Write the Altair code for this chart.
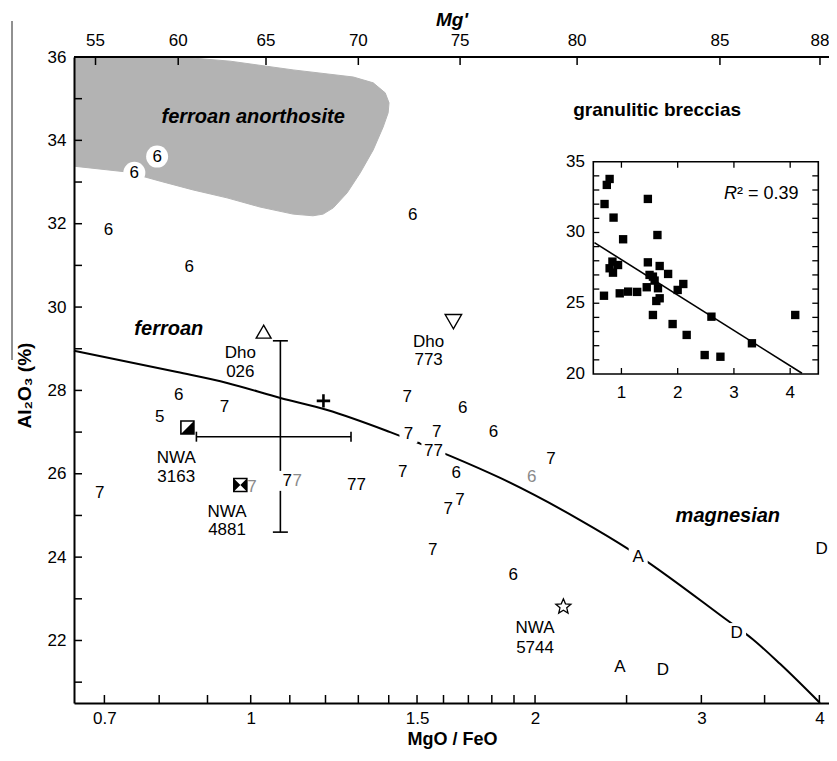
import altair as alt
import pandas as pd

W, H = 755, 646
FONT = "Liberation Sans"

# ---------------- main plot ----------------
X_DOMAIN = [0.65, 4.095]
Y_DOMAIN = [20.5, 36]
x_major = [0.7, 1, 1.5, 2, 3, 4]
x_minor = [0.8, 0.9, 1.1, 1.2, 1.3, 1.4, 1.6, 1.7, 1.8, 1.9, 2.5, 3.5]
y_major = [22, 24, 26, 28, 30, 32, 34, 36]
y_minor = [21, 23, 25, 27, 29, 31, 33, 35]
mg_labels = ["55", "60", "65", "70", "75", "80", "85", "88"]
mg_pos = [0.685, 0.838, 1.038, 1.300, 1.666, 2.216, 3.139, 4.006]

# ferroan anorthosite field (outline)
fa_x = [0.650, 0.842, 0.951, 1.109, 1.284, 1.348, 1.388, 1.401, 1.398, 1.381, 1.348, 1.306,
        1.265, 1.223, 1.193, 1.164, 1.109, 1.023, 0.944, 0.869, 0.802, 0.740, 0.650]
fa_y = [36.00, 36.00, 35.90, 35.69, 35.52, 35.38, 35.14, 34.90, 34.66, 34.32, 33.77, 33.22,
        32.74, 32.38, 32.23, 32.19, 32.23, 32.40, 32.62, 32.81, 33.02, 33.24, 33.38]

# ferroan / magnesian boundary
curve_x = [0.650, 0.836, 0.944, 1.075, 1.205, 1.405, 1.626, 1.837, 2.232, 2.521, 3.193, 3.400, 3.634, 4.006]
curve_y = [28.95, 28.44, 28.18, 27.82, 27.53, 27.00, 26.43, 25.90, 24.89, 24.17, 22.49, 22.03, 21.44, 20.50]

# numbered / lettered samples
lab_text = ["6", "6", "6", "6", "6", "6", "5", "7", "7", "7", "7", "7", "77", "7", "6", "7",
            "7", "77", "6", "6", "7", "7", "7", "7", "6", "7", "6", "A", "D", "A", "D", "D"]
lab_x = [0.796, 0.753, 0.707, 1.484, 0.861, 0.839, 0.801, 0.938, 0.692, 1.003, 1.093, 1.120,
         1.294, 1.465, 1.677, 1.469, 1.574, 1.561, 1.807, 1.650, 1.449, 1.619, 1.666, 1.559,
         1.984, 2.079, 1.897, 2.572, 3.269, 2.460, 2.731, 4.023]
lab_y = [33.61, 33.22, 31.85, 32.21, 30.96, 27.89, 27.37, 27.61, 25.55, 25.69, 25.83, 25.82,
         25.73, 27.85, 27.57, 26.95, 27.01, 26.55, 27.01, 26.01, 26.05, 25.15, 25.37, 24.17,
         25.93, 26.35, 23.57, 24.00, 22.19, 21.36, 21.28, 24.19]
lab_color = ["black"] * 32
for i in (9, 11, 24):
    lab_color[i] = "#8a8a8a"
lab_bg = [0] * 32
lab_bg[10] = 400
lab_bg[15] = 324
lab_bg[17] = 576
lab_bg[27] = 361
lab_bg[28] = 361
circled_idx = [0, 1]

dot_x = [1.506]
dot_y = [26.74]

# named meteorites
name_text = ["Dho", "026", "Dho", "773", "NWA", "3163", "NWA", "4881", "NWA", "5744"]
name_x = [0.975, 0.975, 1.543, 1.543, 0.834, 0.834, 0.944, 0.944, 2.000, 2.000]
name_y = [28.90, 28.44, 29.17, 28.73, 26.37, 25.93, 25.09, 24.64, 22.29, 21.81]

# symbols
tri_up = (1.032, 29.41)
tri_down = (1.639, 29.65)
plus_pt = (1.194, 27.75)
half_sq = (0.857, 27.11)
bowtie = (0.975, 25.73)
star_pt = (2.143, 22.81)

# error cross
err_cx, err_cy = 1.075, 26.89
err_x = [0.876, 1.277]
err_y = [24.60, 29.19]

# region labels
reg_text = ["ferroan anorthosite", "ferroan", "magnesian"]
reg_x = [1.006, 0.819, 3.20]
reg_y = [34.56, 29.47, 24.99]
gb_text = ["granulitic breccias"]
gb_x = [2.693]
gb_y = [34.73]

# ---------------- inset ----------------
ins_xdom = [0.5, 4.5]
ins_ydom = [20, 35]
ins_x = [0.69, 0.70, 0.74, 0.79, 0.86, 0.79, 0.84, 0.85, 0.94, 0.97, 1.03, 1.12, 1.28, 1.47,
         1.47, 1.45, 1.50, 1.56, 1.59, 1.56, 1.64, 1.68, 1.65, 1.62, 1.68, 1.83, 1.91, 2.00,
         2.10, 2.16, 2.48, 2.60, 2.76, 3.32, 4.09]
ins_y = [25.53, 32.01, 33.36, 33.78, 31.05, 27.47, 27.94, 27.16, 27.70, 25.70, 29.52, 25.82,
         25.80, 32.37, 27.89, 26.13, 27.00, 26.88, 26.60, 24.17, 29.82, 27.63, 26.06, 25.16,
         25.35, 27.07, 23.53, 25.94, 26.36, 22.76, 21.34, 24.05, 21.22, 22.17, 24.17]
fit_x = [0.52, 4.21]
fit_y = [29.28, 20.05]
ins_xt = [1, 2, 3, 4]
ins_yt_minor = list(range(21, 35))
ins_ylab = [20, 25, 30, 35]
r2_text = "² = 0.39"

STAR = ("M0,-1L0.265,-0.364L0.951,-0.309L0.428,0.139L0.588,0.809L0,0.45L-0.588,0.809"
        "L-0.428,0.139L-0.951,-0.309L-0.265,-0.364Z")

# ---------------- scales / axes ----------------
xs = alt.Scale(type="log", domain=X_DOMAIN, nice=False)
ys = alt.Scale(domain=Y_DOMAIN, nice=False, zero=False)
xaxis = alt.Axis(orient="bottom", values=x_major, format="~g", title="MgO / FeO", grid=False,
                 ticks=False, tickSize=0, domainWidth=2, domainColor="black", labelFontSize=17,
                 labelFont=FONT, labelColor="black", labelPadding=7, labelFlush=False,
                 labelOverlap=False, titleFont=FONT, titleFontSize=18, titleFontWeight="bold",
                 titleColor="black", titleX=378, titleY=36, titleBaseline="middle",
                 titleAlign="center", zindex=1)
yaxis = alt.Axis(orient="left", values=y_major, title="Al₂O₃ (%)", grid=False, ticks=False,
                 tickSize=0, domainWidth=2, domainColor="black", labelFontSize=17,
                 labelFont=FONT, labelColor="black", labelPadding=8, labelFlush=False,
                 labelOverlap=False, titleFont=FONT, titleFontSize=19, titleFontWeight="bold",
                 titleColor="black", titleX=-50, titleY=328, titleAngle=270,
                 titleAlign="center", titleBaseline="middle", zindex=1)


def MX(f):
    return alt.X(f, type="quantitative", scale=xs, axis=xaxis)


def MY(f):
    return alt.Y(f, type="quantitative", scale=ys, axis=yaxis)


ixs = alt.Scale(domain=ins_xdom, range=[519.3, 744.3], nice=False, zero=False)
iys = alt.Scale(domain=ins_ydom, range=[317, 104.7], nice=False, zero=False)


def IX(f):
    return alt.X(f, type="quantitative", scale=ixs, axis=None)


def IY(f):
    return alt.Y(f, type="quantitative", scale=iys, axis=None)


# ---------------- main layers ----------------
fa_df = pd.DataFrame({"x": fa_x, "y": fa_y, "i": list(range(len(fa_x)))})
fa = alt.Chart(fa_df).mark_line(fill="#b3b3b3", stroke="#b3b3b3", strokeWidth=1).encode(
    x=MX("x"), y=MY("y"), order=alt.Order("i:Q"))

circ_df = pd.DataFrame({"x": [lab_x[i] for i in circled_idx], "y": [lab_y[i] for i in circled_idx]})
circ = alt.Chart(circ_df).mark_point(shape="circle", filled=True, color="white", opacity=1,
                                     size=484).encode(x=MX("x"), y=MY("y"))

curve_df = pd.DataFrame({"x": curve_x, "y": curve_y})
curve = alt.Chart(curve_df).mark_line(color="black", strokeWidth=2, interpolate="monotone").encode(
    x=MX("x"), y=MY("y"))

err_v = alt.Chart(pd.DataFrame({"x": [err_cx], "y": [err_y[0]], "y2": [err_y[1]]})).mark_rule(
    color="black", strokeWidth=1.6).encode(x=MX("x"), y=MY("y"), y2="y2")
err_h = alt.Chart(pd.DataFrame({"x": [err_x[0]], "x2": [err_x[1]], "y": [err_cy]})).mark_rule(
    color="black", strokeWidth=1.6).encode(x=MX("x"), x2="x2", y=MY("y"))
cap_v = alt.Chart(pd.DataFrame({"x": [err_cx, err_cx], "y": err_y})).mark_tick(
    orient="horizontal", size=15, thickness=1.6, color="black", opacity=1).encode(x=MX("x"), y=MY("y"))
cap_h = alt.Chart(pd.DataFrame({"x": err_x, "y": [err_cy, err_cy]})).mark_tick(
    orient="vertical", size=10, thickness=1.6, color="black", opacity=1).encode(x=MX("x"), y=MY("y"))

lab_df = pd.DataFrame({"t": lab_text, "x": lab_x, "y": lab_y, "c": lab_color, "bg": lab_bg})
bg_df = lab_df[lab_df["bg"] > 0]
bg = alt.Chart(bg_df).mark_square(color="white", opacity=1).encode(
    x=MX("x"), y=MY("y"), size=alt.Size("bg:Q", scale=None, legend=None))
labels = alt.Chart(lab_df).mark_text(font=FONT, fontSize=17, baseline="middle", align="center").encode(
    x=MX("x"), y=MY("y"), text=alt.Text("t:N"), color=alt.Color("c:N", scale=None, legend=None))

dot = alt.Chart(pd.DataFrame({"x": dot_x, "y": dot_y})).mark_point(
    shape="circle", filled=True, color="black", size=5, opacity=1).encode(x=MX("x"), y=MY("y"))

names = alt.Chart(pd.DataFrame({"t": name_text, "x": name_x, "y": name_y})).mark_text(
    font=FONT, fontSize=17, baseline="middle", align="center", color="black").encode(
    x=MX("x"), y=MY("y"), text=alt.Text("t:N"))

regions = alt.Chart(pd.DataFrame({"t": reg_text, "x": reg_x, "y": reg_y})).mark_text(
    font=FONT, fontSize=20, fontWeight="bold", fontStyle="italic", baseline="middle",
    align="center", color="black").encode(x=MX("x"), y=MY("y"), text=alt.Text("t:N"))
gbl = alt.Chart(pd.DataFrame({"t": gb_text, "x": gb_x, "y": gb_y})).mark_text(
    font=FONT, fontSize=19, fontWeight="bold", baseline="middle", align="center",
    color="black").encode(x=MX("x"), y=MY("y"), text=alt.Text("t:N"))


def sym(pt, **kw):
    return alt.Chart(pd.DataFrame({"x": [pt[0]], "y": [pt[1]]})).mark_point(opacity=1, **kw).encode(
        x=MX("x"), y=MY("y"))


s_tri_up = sym(tri_up, shape="triangle-up", filled=True, fill="white", stroke="black",
               strokeWidth=1.4, size=220)
s_tri_dn = sym(tri_down, shape="triangle-down", filled=True, fill="white", stroke="black",
               strokeWidth=1.4, size=270)
s_plus = sym(plus_pt, shape="M-1,0L1,0M0,-1L0,1", filled=False, stroke="black",
             strokeWidth=2.6, size=180)
s_half_box = sym(half_sq, shape="square", filled=True, fill="white", stroke="black",
                 strokeWidth=1.6, size=169)
s_half_fill = sym(half_sq, shape="M1,-1L1,1L-1,1Z", filled=True, color="black", size=169)
s_bow_box = sym(bowtie, shape="square", filled=True, fill="white", stroke="black",
                strokeWidth=1.6, size=169)
s_bow_fill = sym(bowtie, shape="M-1,-1L0,0L-1,1ZM1,-1L0,0L1,1Z", filled=True, color="black",
                 size=169)
s_star = sym(star_pt, shape=STAR, filled=True, fill="white", stroke="black",
             strokeWidth=1.3, size=250)

# inward axis ticks
bt_df = pd.DataFrame({"x": x_major + x_minor, "y": [Y_DOMAIN[0]] * (len(x_major) + len(x_minor))})
bticks = alt.Chart(bt_df).mark_tick(orient="vertical", size=8, thickness=1.5, yOffset=-4,
                                    color="black", opacity=1).encode(x=MX("x"), y=MY("y"))
lt_df = pd.DataFrame({"y": y_major + y_minor, "x": [X_DOMAIN[0]] * (len(y_major) + len(y_minor))})
lticks = alt.Chart(lt_df).mark_tick(orient="horizontal", size=8, thickness=1.5, xOffset=4,
                                    color="black", opacity=1).encode(x=MX("x"), y=MY("y"))
tt_df = pd.DataFrame({"x": mg_pos, "y": [Y_DOMAIN[1]] * len(mg_pos), "t": mg_labels})
tticks = alt.Chart(tt_df).mark_tick(orient="vertical", size=8, thickness=1.5, yOffset=4,
                                    color="black", opacity=1).encode(x=MX("x"), y=MY("y"))
tlabels = alt.Chart(tt_df).mark_text(font=FONT, fontSize=17, baseline="middle", align="center",
                                     color="black").encode(x=MX("x"), y=alt.value(-16),
                                                           text=alt.Text("t:N"))
ttitle = alt.Chart(pd.DataFrame({"t": ["Mg'"]})).mark_text(
    font=FONT, fontSize=19, fontWeight="bold", fontStyle="italic", baseline="middle",
    align="center", color="black").encode(x=alt.value(378), y=alt.value(-37), text=alt.Text("t:N"))
topline = alt.Chart(pd.DataFrame({"a": [0]})).mark_rule(color="black", strokeWidth=2).encode(
    x=alt.value(0), x2=alt.value(W), y=alt.value(0))
sideline = alt.Chart(pd.DataFrame({"a": [0]})).mark_rule(color="#222", strokeWidth=1).encode(
    x=alt.value(-62), y=alt.value(-36), y2=alt.value(303))

main = alt.layer(fa, circ, curve, err_v, err_h, cap_v, cap_h, bg, labels, dot, names, regions,
                 gbl, s_tri_up, s_tri_dn, s_plus, s_half_box, s_half_fill, s_bow_box, s_bow_fill,
                 s_star, bticks, lticks, tticks, tlabels, ttitle, topline, sideline)

# ---------------- inset layers ----------------
frame = alt.Chart(pd.DataFrame({"x0": [ins_xdom[0]], "x1": [ins_xdom[1]],
                                "y0": [ins_ydom[0]], "y1": [ins_ydom[1]]})).mark_rect(
    fill="white", stroke="black", strokeWidth=1.6).encode(x=IX("x0"), x2="x1", y=IY("y0"), y2="y1")
ib = alt.Chart(pd.DataFrame({"x": ins_xt, "y": [ins_ydom[0]] * 4})).mark_tick(
    orient="vertical", size=6, thickness=1.3, yOffset=-3, color="black", opacity=1).encode(
    x=IX("x"), y=IY("y"))
it = alt.Chart(pd.DataFrame({"x": ins_xt, "y": [ins_ydom[1]] * 4})).mark_tick(
    orient="vertical", size=6, thickness=1.3, yOffset=3, color="black", opacity=1).encode(
    x=IX("x"), y=IY("y"))
il = alt.Chart(pd.DataFrame({"y": ins_yt_minor, "x": [ins_xdom[0]] * len(ins_yt_minor)})).mark_tick(
    orient="horizontal", size=6, thickness=1.3, xOffset=3, color="black", opacity=1).encode(
    x=IX("x"), y=IY("y"))
ir = alt.Chart(pd.DataFrame({"y": ins_yt_minor, "x": [ins_xdom[1]] * len(ins_yt_minor)})).mark_tick(
    orient="horizontal", size=6, thickness=1.3, xOffset=-3, color="black", opacity=1).encode(
    x=IX("x"), y=IY("y"))
ipts = alt.Chart(pd.DataFrame({"x": ins_x, "y": ins_y})).mark_square(
    color="black", size=70, opacity=1).encode(x=IX("x"), y=IY("y"))
ifit = alt.Chart(pd.DataFrame({"x": fit_x, "y": fit_y})).mark_line(
    color="black", strokeWidth=1.6).encode(x=IX("x"), y=IY("y"))
iyl = alt.Chart(pd.DataFrame({"y": ins_ylab, "t": [str(v) for v in ins_ylab]})).mark_text(
    font=FONT, fontSize=17, align="right", baseline="middle", color="black").encode(
    x=alt.value(511), y=IY("y"), text=alt.Text("t:N"))
ixl = alt.Chart(pd.DataFrame({"x": ins_xt, "t": [str(v) for v in ins_xt]})).mark_text(
    font=FONT, fontSize=17, align="center", baseline="middle", color="black").encode(
    x=IX("x"), y=alt.value(336), text=alt.Text("t:N"))
ir_R = alt.Chart(pd.DataFrame({"x": [3.053], "y": [32.72], "t": ["R"]})).mark_text(
    font=FONT, fontSize=18, fontStyle="italic", align="right", baseline="middle",
    color="black").encode(x=IX("x"), y=IY("y"), text=alt.Text("t:N"))
ir_v = alt.Chart(pd.DataFrame({"x": [3.053], "y": [32.72], "t": [r2_text]})).mark_text(
    font=FONT, fontSize=18, align="left", baseline="middle", color="black").encode(
    x=IX("x"), y=IY("y"), text=alt.Text("t:N"))

inset = alt.layer(frame, ib, it, il, ir, ifit, ipts, iyl, ixl, ir_R, ir_v)

chart = alt.layer(main, inset).resolve_scale(x="independent", y="independent").properties(
    width=W, height=H,
    padding={"left": 66, "top": 49, "right": 0, "bottom": 46},
    autosize=alt.AutoSizeParams(type="none"),
).configure(font=FONT).configure_view(stroke=None)

chart.save("out.html", embed_options={"renderer": "svg", "actions": False})
